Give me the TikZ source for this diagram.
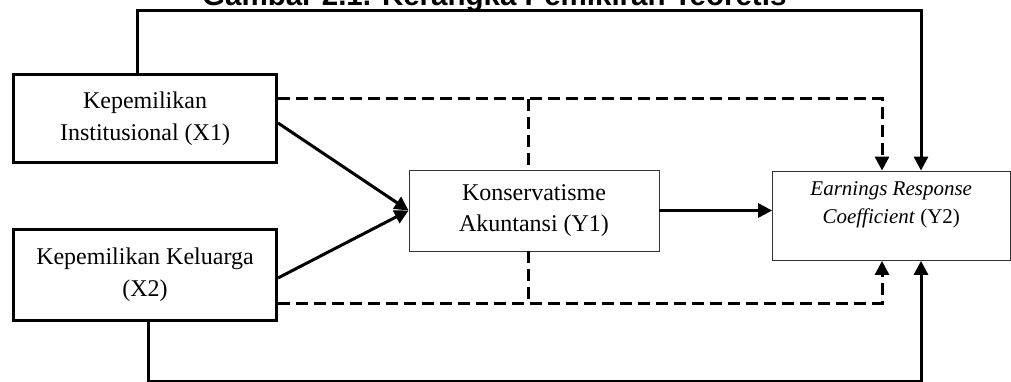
\documentclass[tikz,border=0pt]{standalone}
\usepackage{fontspec}
\setmainfont{Liberation Serif}
\newfontfamily\titlefont{Liberation Sans}
\usetikzlibrary{arrows.meta,positioning,calc}

\begin{document}
\begin{tikzpicture}[x=1pt,y=-1pt,
  varbox/.style={rectangle,draw=black,line width=3pt,align=center,font=\fontsize{24}{32}\selectfont},
  thinbox/.style={rectangle,draw=black!80,line width=0.8pt,align=center,font=\fontsize{24}{31}\selectfont},
  link/.style={line width=3pt},
  arr/.style={link,-{Triangle[length=14pt,width=14pt]}},
  dashlink/.style={line width=3pt,dash pattern=on 12pt off 6pt},
  dasharr/.style={dashlink,-{Triangle[length=14pt,width=14pt]}}
]
\useasboundingbox (0,0) rectangle (1011,382);
% judul (terpotong di tepi atas)
\node[anchor=base west,inner sep=0,font=\titlefont\bfseries\fontsize{29.5}{30}\selectfont] (title) at (202,6) {Gambar 2.1. Kerangka Pemikiran Teoretis};
% variabel
\node[varbox,minimum width=263pt,minimum height=88pt] (x1) at (145,118.5) {Kepemilikan\\Institusional (X1)};
\node[varbox,minimum width=263pt,minimum height=91pt] (x2) at (145,275) {Kepemilikan Keluarga\\(X2)};
\node[thinbox,minimum width=250pt,minimum height=81pt] (y1) at (534,210.5) {Konservatisme\\Akuntansi (Y1)};
\node[thinbox,minimum width=237.5pt,minimum height=89.5pt,
  label={[align=center,font=\fontsize{21}{28}\selectfont,yshift=11pt]center:{\textit{Earnings Response}\\\textit{Coefficient} (Y2)}}] (y2) at (891.25,215.75) {};
% titik bantu
\coordinate (topL) at (137,10.3);
\coordinate (topR) at (921,10.3);
\coordinate (botL) at (148,381.5);
\coordinate (botR) at (921,381.5);
\coordinate (dashT) at (882,99);
\coordinate (dashTm) at (528,99);
\coordinate (dashB) at (882,303);
\coordinate (dashBm) at (528,303);
% pengaruh langsung
\draw[arr] ([yshift=-4.5pt]x1.east) -- (y1.west);
\draw[arr] ([yshift=-3pt]x2.east) -- (y1.west);
\draw[arr] (y1.east) -- (y1.east -| y2.west);
\draw[arr] (x1.north -| topL) |- (topR) -- (y2.north -| topR);
\draw[arr] (x2.south -| botL) |- (botR) -- (y2.south -| botR);
% pengaruh moderasi
\draw[dasharr] (x1.east |- dashT) -- (dashT) -- (y2.north -| dashT);
\draw[dashlink] (dashTm) -- (y1.north -| dashTm);
\draw[dasharr] (x2.east |- dashB) -- (dashB) -- (y2.south -| dashB);
\draw[dashlink] (y1.south -| dashBm) -- (dashBm);
\end{tikzpicture}
\end{document}
